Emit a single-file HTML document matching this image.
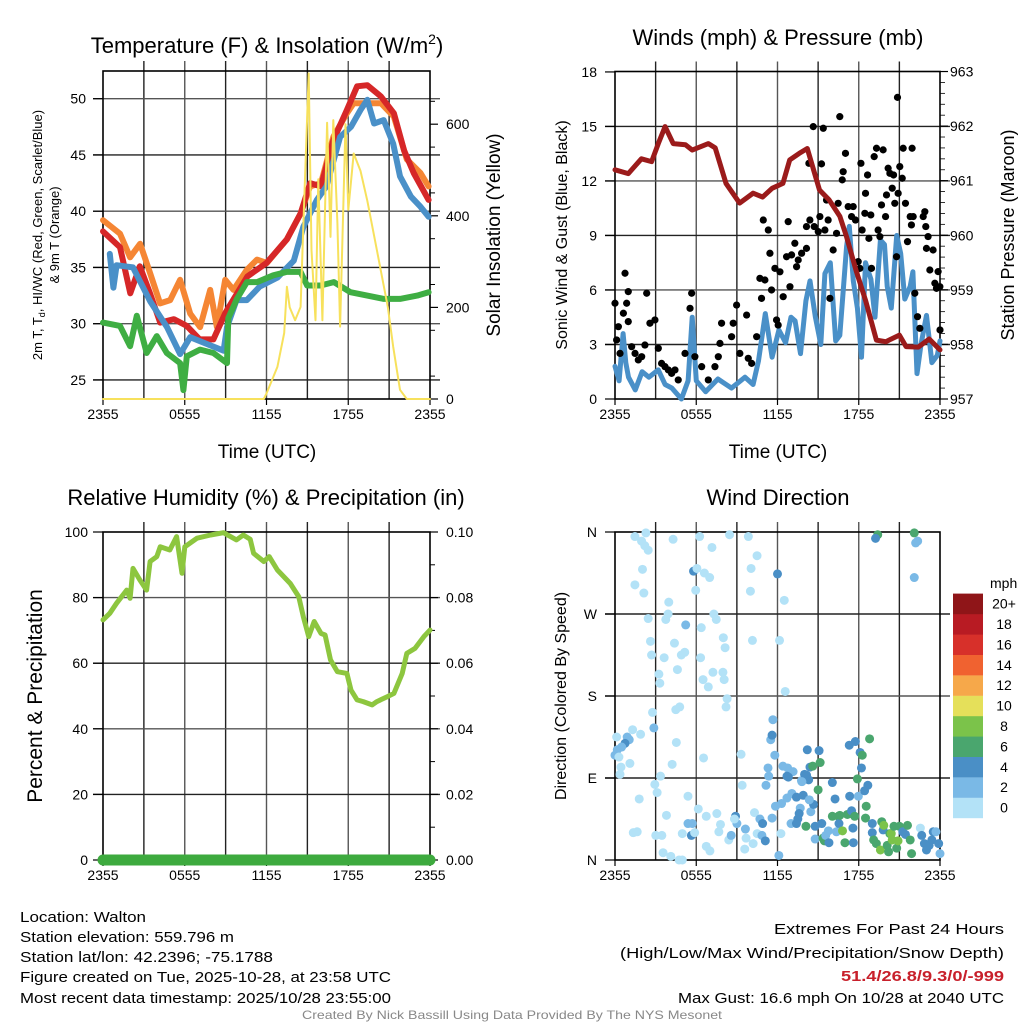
<!DOCTYPE html>
<html><head><meta charset="utf-8"><style>
html,body{margin:0;padding:0;background:#fff;}
svg{display:block;font-family:"Liberation Sans",sans-serif;}
</style></head><body>
<svg id="fig" width="1024" height="1024" viewBox="0 0 1024 1024">
<rect width="1024" height="1024" fill="#fff"/>
<g id="titles">
<text x="267" y="53" font-size="22" text-anchor="middle">Temperature (F) &amp; Insolation (W/m<tspan font-size="14" dy="-9">2</tspan><tspan dy="9">)</tspan></text>
<text x="778" y="45" font-size="22" text-anchor="middle">Winds (mph) &amp; Pressure (mb)</text>
<text x="266" y="505" font-size="22" text-anchor="middle">Relative Humidity (%) &amp; Precipitation (in)</text>
<text x="778" y="505" font-size="22" text-anchor="middle">Wind Direction</text>
<text x="267" y="458" font-size="19" text-anchor="middle">Time (UTC)</text>
<text x="778" y="458" font-size="19" text-anchor="middle">Time (UTC)</text>
<text transform="translate(42,235) rotate(-90)" font-size="13" text-anchor="middle">2m T, T<tspan font-size="9" dy="3">d</tspan><tspan dy="-3">, HI/WC (Red, Green, Scarlet/Blue)</tspan></text>
<text transform="translate(59,235) rotate(-90)" font-size="13" text-anchor="middle">&amp; 9m T (Orange)</text>
<text transform="translate(500,235) rotate(-90)" font-size="19" text-anchor="middle">Solar Insolation (Yellow)</text>
<text transform="translate(567,235) rotate(-90)" font-size="16" text-anchor="middle">Sonic Wind &amp; Gust (Blue, Black)</text>
<text transform="translate(1014,235) rotate(-90)" font-size="18" text-anchor="middle">Station Pressure (Maroon)</text>
<text transform="translate(42,696) rotate(-90)" font-size="21" text-anchor="middle">Percent &amp; Precipitation</text>
<text transform="translate(566,696) rotate(-90)" font-size="16" text-anchor="middle">Direction (Colored By Speed)</text>
</g>
<g id="footer" font-size="15">
<text x="20" y="922" textLength="126" lengthAdjust="spacingAndGlyphs">Location: Walton</text>
<text x="20" y="942" textLength="214" lengthAdjust="spacingAndGlyphs">Station elevation: 559.796 m</text>
<text x="20" y="962" textLength="253" lengthAdjust="spacingAndGlyphs">Station lat/lon: 42.2396; -75.1788</text>
<text x="20" y="982" textLength="371" lengthAdjust="spacingAndGlyphs">Figure created on Tue, 2025-10-28, at 23:58 UTC</text>
<text x="20" y="1003" textLength="371" lengthAdjust="spacingAndGlyphs">Most recent data timestamp: 2025/10/28 23:55:00</text>
<text x="774" y="934" textLength="230" lengthAdjust="spacingAndGlyphs">Extremes For Past 24 Hours</text>
<text x="620" y="958" textLength="384" lengthAdjust="spacingAndGlyphs">(High/Low/Max Wind/Precipitation/Snow Depth)</text>
<text x="841" y="981" textLength="163" lengthAdjust="spacingAndGlyphs" font-weight="bold" fill="#c8202b">51.4/26.8/9.3/0/-999</text>
<text x="678" y="1003" textLength="326" lengthAdjust="spacingAndGlyphs">Max Gust: 16.6 mph On 10/28 at 2040 UTC</text>
<text x="302" y="1019" font-size="12" textLength="420" lengthAdjust="spacingAndGlyphs" fill="#888">Created By Nick Bassill Using Data Provided By The NYS Mesonet</text>
</g>
</svg>
<script>
// ---------- data ----------
const timeTicks=["2355","0555","1155","1755","2355"];
const tempTicks=[25,30,35,40,45,50];
const solarTicks=[0,200,400,600];
const windTicks=[0,3,6,9,12,15,18];
const presTicks=[957,958,959,960,961,962,963];
const rhTicks=[0,20,40,60,80,100];
const precipTicks=["0.00","0.02","0.04","0.06","0.08","0.10"];
const dirTicks=["N","E","S","W","N"];
const speedLabels=["0","2","4","6","8","10","12","14","16","18","20+"];
const speedColors=["#b3e2f7","#7ab9e6","#4a8fc6","#4aa66e","#7bc34a","#e5e05a","#f6a84a","#f06230","#d7302a","#b81b23","#8f1518"];

const redH=[0,1.25,2.0,2.7,3.45,4.2,5.2,6.15,7.1,8.1,9.0,10.6,12.0,13.5,14.5,15.2,16.0,16.9,17.9,18.65,19.4,20.4,21.35,22.1,22.8,23.9];
const redV=[38.2,36.8,32.7,35.1,32.7,30.1,30.4,29.8,28.6,28.6,31.0,34.2,35.4,37.5,39.8,42.5,42.2,46.3,49.0,51.1,51.2,50.2,48.7,45.4,43.4,41.0];
const orangeH=[0,1.25,1.99,2.72,3.46,4.19,4.93,5.66,6.4,7.13,7.87,8.36,8.97,9.58,10.56,11.3,12.03,13.5,14.5,15.2,16.0,16.9,17.9,18.4,19.4,20.4,21.35,22.3,23.3,23.9];
const orangeV=[39.2,38.0,35.9,37.1,34.5,31.8,32.1,33.9,30.9,29.7,33.0,29.7,33.9,33.0,34.8,35.7,35.4,37.5,39.8,42.2,42.5,46.6,48.7,49.6,49.6,49.6,48.4,44.6,43.4,42.2];
const blueH=[0.5,0.76,1.0,2.2,3.46,4.7,5.66,6.4,7.6,8.85,9.1,9.8,10.56,11.5,12.8,14.0,14.7,15.7,16.4,17.4,18.2,18.9,19.4,19.9,20.6,21.3,21.8,22.6,23.3,23.9];
const blueV=[36.2,33.2,35.2,35.0,32.0,29.7,27.3,28.8,28.2,27.6,29.7,32.1,32.1,33.3,34.1,35.6,38.6,41.0,42.2,46.6,47.5,49.0,49.9,47.8,48.1,46.0,43.1,41.3,40.4,39.5];
const greenH=[0,1.25,1.99,2.48,3.21,3.95,4.68,5.66,5.9,6.15,7.13,8.1,9.1,9.2,9.83,10.56,11.3,12.5,13.5,14.5,14.98,15.96,16.94,18.16,19.39,20.6,21.8,23.06,23.9];
const greenV=[30.1,29.8,28.0,30.7,27.4,28.9,27.4,26.5,24.1,27.1,27.7,27.4,26.5,30.5,32.2,33.7,33.7,34.3,34.6,34.6,33.4,33.4,33.7,32.8,32.5,32.2,32.2,32.5,32.8];
const solarH=[0,11.8,12.0,12.8,13.3,13.5,13.7,14.1,14.5,14.7,15.1,15.3,15.6,15.8,16.1,16.45,16.7,16.9,17.2,17.4,17.8,18.0,18.4,18.9,19.4,20.1,20.9,21.3,21.8,22.3,24];
const solarV=[0,0,12,70,144,245,200,172,201,376,711,325,172,480,172,603,354,609,384,158,600,413,536,498,433,325,201,114,20,0,0];

const presH=[0,0.98,1.95,2.7,3.2,3.7,4.3,5.2,5.7,6.9,7.4,8.2,9.2,10.2,10.9,11.6,12.4,12.9,13.6,14.2,15.1,15.8,16.6,17.1,17.8,18.5,19.3,20.0,21.0,21.5,22.4,23.2,24];
const presV=[961.2,961.13,961.4,961.35,961.68,961.99,961.68,961.66,961.56,961.68,961.6,960.95,960.59,960.77,960.7,960.86,960.95,961.38,961.5,961.59,960.83,960.65,960.35,959.97,959.36,958.81,958.08,958.05,958.17,957.96,957.95,958.1,957.9];
const windH=[0,0.3,0.6,0.8,1.0,1.5,2.0,2.5,3.2,3.7,4.2,4.9,5.4,5.7,6.0,6.7,7.6,8.6,9.6,10.2,10.6,11.1,11.6,12.1,12.6,13.0,13.3,13.7,14.1,14.4,14.8,15.2,15.5,15.9,16.3,16.6,17.1,17.3,17.6,17.9,18.2,18.5,18.9,19.2,19.6,19.9,20.1,20.4,20.8,21.1,21.4,21.8,22.0,22.3,22.6,23.0,23.4,23.8,24];
const windV=[1.8,1.0,3.6,2.0,1.2,0.5,1.5,1.2,1.6,0.8,0.6,0,1.0,4.5,1.0,0.4,1.1,0.6,1.2,0.8,2.1,4.7,2.3,3.8,3.1,4.5,4.3,2.5,5.4,6.5,4.5,3.0,6.9,7.5,3.2,3.5,8.4,9.5,6.5,5.0,2.3,7.5,6.6,4.5,8.75,8.5,6.2,5.0,9.0,8.0,5.5,6.2,7.0,1.4,3.0,4.6,2.0,2.4,3.2];
const gustH=[0,0.12,0.25,0.37,0.62,0.74,0.86,0.98,0.98,1.23,1.48,1.72,1.97,2.21,2.34,2.58,2.95,3.2,3.44,3.69,3.94,4.18,4.43,4.67,5.17,5.54,5.66,5.9,6.4,6.89,7.38,7.63,7.75,7.87,8.61,8.73,8.98,9.22,9.72,9.84,10.09,10.46,10.7,10.82,10.95,11.07,11.32,11.44,11.56,11.81,11.93,12.05,12.18,12.42,12.67,12.79,12.92,13.04,13.28,13.41,13.53,13.78,14.14,14.14,14.32,14.39,14.64,14.71,15.01,15.13,15.25,15.38,15.5,15.62,15.74,15.87,16.11,16.36,16.48,16.6,16.78,16.85,17.02,17.22,17.47,17.59,17.76,17.96,18.08,18.16,18.25,18.45,18.5,18.65,18.75,18.89,18.94,19.14,19.31,19.43,19.56,19.68,19.8,19.98,20.05,20.17,20.3,20.47,20.57,20.66,20.79,20.86,20.91,21.03,21.21,21.28,21.45,21.6,21.8,21.89,21.94,22.02,22.14,22.34,22.51,22.76,22.88,22.95,23.0,23.12,23.25,23.49,23.62,23.74,23.86,23.99,24.0];
const gustV=[5.27,3.25,3.98,2.51,4.72,6.92,5.27,5.91,4.26,2.88,2.51,2.15,2.33,2.97,5.82,4.17,4.35,2.79,1.96,1.78,1.6,1.41,1.6,1.05,2.51,4.99,5.82,2.33,1.78,1.05,1.78,2.33,3.06,4.17,3.43,4.17,5.17,2.51,4.62,2.24,1.96,3.43,6.64,5.54,9.85,6.55,9.3,8.02,6.0,7.19,4.35,4.07,7.0,5.63,7.83,9.76,6.18,7.93,8.57,7.28,7.65,8.02,9.49,8.29,12.97,9.85,14.99,9.49,9.21,10.04,12.94,14.9,9.3,10.95,9.85,5.54,8.2,9.12,10.77,15.54,12.06,12.51,13.52,10.59,10.04,10.59,9.85,7.56,7.19,12.97,9.3,10.22,11.32,12.33,8.84,10.13,7.19,13.34,13.8,9.3,8.94,10.68,13.71,10.04,11.23,12.7,12.42,11.6,12.33,10.77,7.83,16.6,11.32,12.79,12.15,13.8,10.77,8.66,10.04,9.58,13.8,10.04,5.82,4.53,3.89,10.04,10.31,9.49,8.29,8.94,7.1,8.2,6.37,6.09,7.01,6.18,3.8];

const rhH=[0,0.5,1.0,1.74,1.99,2.2,2.7,3.2,3.46,3.95,4.2,4.9,5.4,5.8,6.0,6.9,7.9,8.85,9.8,10.3,10.8,11.05,11.8,12.2,12.8,13.75,14.36,14.7,15.1,15.5,16.0,16.3,16.7,17.2,17.9,18.2,18.65,19.1,19.75,20.1,20.86,21.35,21.96,22.3,22.9,23.55,24];
const rhV=[73.2,75.2,78.3,82.3,79.8,88.9,85.4,82.3,91,92.5,95.5,94.5,98.6,87.4,95.5,98.1,99.1,99.8,97.6,99.1,97.8,93.5,91,92.5,88.4,84.3,80.3,74.2,68.1,72.7,69.1,68.6,61,57.4,56.9,51.8,48.8,48.3,47.3,48.3,49.8,50.8,56.9,63,64.5,68.1,70.1];
const precipH=[0,24];
const precipV=[0,0];

const dirH=[1.47,2.28,1.96,2.2,2.45,2.03,1.47,2.13,4.29,6.25,7.16,8.46,9.85,10.49,10.05,10.0,12.0,12.5,5.8,6.05,6.6,6.99,5.96,3.97,2.45,3.92,3.75,5.22,6.37,7.3,7.48,2.62,4.39,2.7,3.63,4.9,5.15,6.32,8.0,8.13,10.15,12.15,4.61,3.24,3.31,7.23,7.97,8.06,6.5,6.89,12.57,8.28,8.2,2.77,4.49,4.78,2.87,1.3,1.89,0.12,0.9,1.05,0.74,0.49,0.17,0,0.29,1.1,0.44,0.37,4.53,6.54,9.31,4.22,3.36,2.94,3.11,1.79,1.35,1.64,3.01,3.46,3.8,4.97,3.55,4.12,4.73,4.97,5.39,6.15,6.74,7.52,5.39,5.71,5.64,5.88,6.74,7.01,7.67,7.79,8.4,8.58,8.9,9.0,8.82,9.63,9.39,9.58,9.68,10.2,10.3,10.5,10.7,10.9,10.85,11.1,11.6,11.85,12.1,12.25,11.15,11.35,11.3,11.8,11.5,11.6,11.66,12.4,12.75,13.15,12.7,12.8,12.3,12.7,13.06,13.4,13.9,13.68,13.6,13.5,13.0,13.4,14.1,14.46,14.66,14.35,13.77,14.15,14.3,14.0,13.8,14.2,14.4,14.6,15.07,15.15,15.0,14.78,14.78,15.27,15.36,15.46,15.56,15.76,15.8,16.05,16.25,16.05,16.35,16.5,16.54,16.6,16.8,16.98,17.16,17.3,17.33,17.47,17.57,17.6,17.7,17.75,17.9,17.97,18.1,18.26,18.2,18.43,18.55,18.5,18.67,18.8,19.0,19.0,19.1,19.3,19.4,19.24,19.6,19.7,19.8,19.85,20.1,20.2,20.3,20.4,20.47,20.6,20.8,20.9,21.0,21.25,21.45,21.6,21.8,21.9,22.1,22.2,22.35,22.1,22.55,22.65,22.85,23.0,23.2,23.4,23.5,23.7,23.9,24.0];
const dirV=[355,359,350,345,340,319,302,293,352,355,343,357,355,334,320,295,314,285,317,320,315,310,296,283,265,270,264,258,255,270,264,240,238,225,222,225,228,222,244,233,241,241,209,204,194,206,206,198,198,190,185,177,168,162,165,168,145,143,138,135,135,132,128,124,121,115,113,106,102,94,129,112,116,105,92,83,74,67,30,31,27,27,49,29,8,4,0,0,70,56,48,51,40,40,27,30,15,10,31,39,22,27,48,40,45,34,82,12,24,18,52,29,45,40,27,21,46,59,5,29,82,92,101,115,132,137,154,103,101,97,92,91,62,68,73,69,71,57,51,45,40,40,37,53,61,66,87,93,88,94,86,121,102,103,120,107,77,37,23,40,24,21,27,32,19,85,67,48,31,48,40,49,32,19,50,126,70,54,35,19,48,130,89,70,118,115,101,76,59,46,82,133,40,30,22,18,357,353,11,42,33,38,16,9,29,29,22,37,13,21,37,31,28,38,22,7,359,348,350,310,35,27,18,11,16,22,31,31,18,7];
const dirSpd=[1,1,1,1,1,1,1,1,1,1,1,1,1,1,1,1,5,1,5,1,1,1,1,1,1,1,1,3,1,1,1,1,1,1,1,1,1,1,1,1,1,1,1,1,1,1,1,1,1,1,1,1,1,1,1,1,3,1,1,1,3,3,5,3,3,3,1,1,1,1,1,1,1,1,1,1,1,1,1,1,1,1,1,1,1,1,1,1,1,1,1,1,3,3,5,1,1,1,1,1,1,3,5,3,1,3,1,1,1,1,1,1,3,5,3,5,3,3,3,1,3,3,3,3,3,5,3,3,3,3,5,5,3,3,3,5,5,3,5,5,3,5,7,3,5,3,3,5,5,5,3,5,5,7,5,7,7,5,3,5,7,7,3,3,5,5,5,7,3,7,5,7,9,7,7,5,5,5,5,5,7,5,7,3,5,7,5,5,7,7,5,7,5,5,7,7,7,5,9,7,5,9,7,7,7,9,9,7,7,9,7,5,5,7,7,7,7,3,3,3,1,5,5,5,5,5,5,3,5,3,3];

// ---------- helpers ----------
const NS="http://www.w3.org/2000/svg";
const svg=document.getElementById('fig');
function mk(parent,tag,attrs,text){const e=document.createElementNS(NS,tag);for(const k in attrs)e.setAttribute(k,attrs[k]);if(text!==undefined)e.textContent=text;parent.appendChild(e);return e;}
function grp(name){const g=document.createElementNS(NS,'g');svg.appendChild(g);


return g;}
function colorFor(s){return speedColors[Math.min(10,Math.floor(s/2))];}

const panels={
 temp:{x0:103,x1:430,y0:71,y1:399},
 wind:{x0:615,x1:940,y0:71.5,y1:399},
 rh:{x0:103,x1:430,y0:532,y1:860},
 dir:{x0:615,x1:940,y0:532,y1:860}
};
function xs(p,h){return p.x0+h*(p.x1-p.x0)/24;}
const yTemp=v=>98.7+(50-v)*11.25;
const ySolar=v=>399-v*0.458;
const yWind=v=>399-v*18.17;
const yPres=v=>399-(v-957)*54.58;
const yRH=v=>860-v*3.28;
const yPrecip=v=>860-v*3280;
const yDir=v=>860-v*328/360;

function frame(p,name,hLines,leftLabels,rightLabels,lx,rx){
 const g=grp(name);
 for(let i=1;i<8;i++){const x=xs(p,i*3);
  const l=mk(g,'line',{x1:x,x2:x,y1:p.y0-10,y2:p.y1,stroke:i%2?'#222':'#555','stroke-width':1.4});
  
  }
 hLines.forEach((y,i)=>{const l=mk(g,'line',{x1:p.x0-10,x2:p.x1+10,y1:y,y2:y,stroke:i%2?'#555':'#222','stroke-width':1.4});
  
  });
 const r=mk(g,'rect',{x:p.x0,y:p.y0,width:p.x1-p.x0,height:p.y1-p.y0,fill:'none',stroke:'#000','stroke-width':1.6});
 
 
 timeTicks.forEach((t,i)=>{const x=xs(p,i*6);
  mk(g,'line',{x1:x,x2:x,y1:p.y1,y2:p.y1+6,stroke:'#000','stroke-width':1.2});
  const tx=mk(g,'text',{x:x,y:p.y1+20,'font-size':14,'text-anchor':'middle'},t);
  
  });
 leftLabels.forEach(([y,t])=>{mk(g,'line',{x1:p.x0-10,x2:p.x0,y1:y,y2:y,stroke:'#000','stroke-width':1.2});
  const tx=mk(g,'text',{x:lx,y:y+5,'font-size':14,'text-anchor':'end'},t);
  
  });
 rightLabels.forEach(([y,t])=>{mk(g,'line',{x1:p.x1,x2:p.x1+8,y1:y,y2:y,stroke:'#000','stroke-width':1.2});
  const tx=mk(g,'text',{x:rx,y:y+5,'font-size':14,'text-anchor':'start'},t);
  
  });
 return g;
}
function path(g,p,H,V,yf,color,w,name){
 const d=H.map((h,i)=>(i?'L':'M')+xs(p,h).toFixed(1)+','+yf(V[i]).toFixed(1)).join('');
 const e=mk(g,'path',{d:d,fill:'none',stroke:color,'stroke-width':w,'stroke-linejoin':'round','stroke-linecap':'round'});
 
 
 return e;
}

// ---------- temperature panel ----------
{const p=panels.temp;
 const g=frame(p,'temperature-panel',tempTicks.map(yTemp),tempTicks.map(v=>[yTemp(v),String(v)]),solarTicks.map(v=>[ySolar(v),String(v)]),86,446);
 for(let v=50;v<=700;v+=100){mk(g,'line',{x1:p.x1,x2:p.x1+5,y1:ySolar(v),y2:ySolar(v),stroke:'#000'});}
 path(g,p,orangeH,orangeV,yTemp,'#f58634',6,'orange-9m-temp-line');
 path(g,p,redH,redV,yTemp,'#d62728',6,'red-2m-temp-line');
 path(g,p,blueH,blueV,yTemp,'#4a90c8',6,'blue-windchill-line');
 path(g,p,greenH,greenV,yTemp,'#3fae43',6,'green-dewpoint-line');
 path(g,p,solarH,solarV,ySolar,'#f7e15c',2,'yellow-insolation-line');
}
// ---------- wind panel ----------
{const p=panels.wind;
 const g=frame(p,'wind-panel',[3,6,9,12,15].map(yWind),windTicks.map(v=>[yWind(v),String(v)]),presTicks.map(v=>[yPres(v),String(v)]),597,950);
 for(let v=957.2;v<963;v+=0.2){mk(g,'line',{x1:p.x1,x2:p.x1+5,y1:yPres(v),y2:yPres(v),stroke:'#000','stroke-width':0.8});}
 path(g,p,windH,windV,yWind,'#4a90c8',5,'sonic-wind-line');
 gustH.forEach((h,i)=>{const c=mk(g,'circle',{cx:xs(p,h),cy:yWind(gustV[i]),r:3.6,fill:'#000'});
  
  });
 path(g,p,presH,presV,yPres,'#9b1b1b',5,'pressure-line');
}
// ---------- RH panel ----------
{const p=panels.rh;
 const g=frame(p,'humidity-panel',[20,40,60,80].map(yRH),rhTicks.map(v=>[yRH(v),String(v)]),precipTicks.map((t,i)=>[yRH(i*20),t]),88,446);
 for(let v=10;v<100;v+=20){mk(g,'line',{x1:p.x1,x2:p.x1+5,y1:yRH(v),y2:yRH(v),stroke:'#000'});}
 path(g,p,rhH,rhV,yRH,'#8dc63f',5,'relative-humidity-line');
 path(g,p,precipH,precipV,yPrecip,'#3daa3e',11,'precipitation-line');
}
// ---------- direction panel ----------
{const p=panels.dir;
 const g=frame(p,'direction-panel',[90,180,270].map(yDir),dirTicks.map((t,i)=>[yDir(i*90),t]),[],597,950);
 dirH.forEach((h,i)=>{const c=mk(g,'circle',{cx:xs(p,h),cy:yDir(dirV[i]),r:4.5,fill:colorFor(dirSpd[i])});
  
  });
 const cb=grp('speed-colorbar');
 const t=mk(cb,'text',{x:990,y:588,'font-size':14},'mph');
 
 
 speedColors.forEach((c,i)=>{const y=818-(i+1)*20.4;
  const r=mk(cb,'rect',{x:953,y:y,width:30,height:20.6,fill:c});
  
  
  const l=mk(cb,'text',{x:1004,y:y+15,'font-size':14,'text-anchor':'middle'},speedLabels[i]);
  
  });
}
</script>
</body></html>
